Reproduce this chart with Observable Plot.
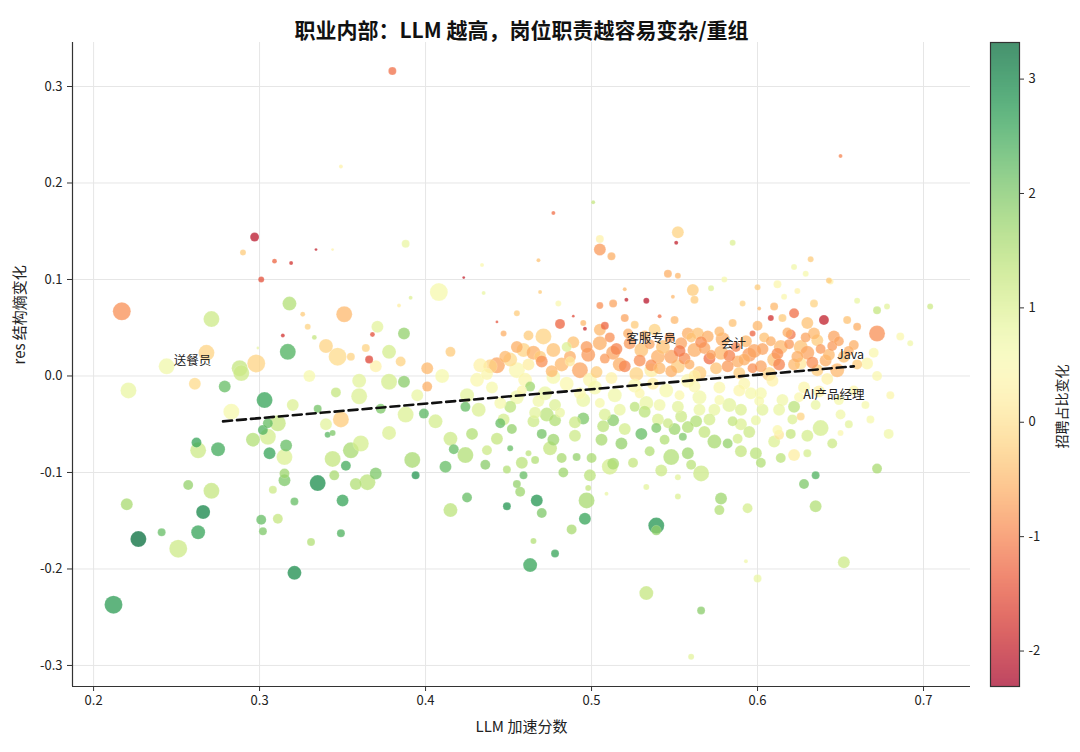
<!DOCTYPE html>
<html><head><meta charset="utf-8">
<script src="https://cdn.jsdelivr.net/npm/d3@7"></script>
<script src="https://cdn.jsdelivr.net/npm/@observablehq/plot@0.6"></script>
<style>
body{margin:0;background:#fff;font-family:"Noto Sans CJK SC","Noto Sans",sans-serif;}
#wrap{display:flex;width:1080px;height:752px;overflow:hidden;}
</style></head><body><div id="wrap"></div>
<script>
const title = "职业内部：LLM 越高，岗位职责越容易变杂/重组";
const xLabel = "LLM 加速分数";
const yLabel = "res 结构熵变化";
const cbLabel = "招聘占比变化";
const xTicks = [0.2,0.3,0.4,0.5,0.6,0.7];
const yTicks = [-0.3,-0.2,-0.1,0.0,0.1,0.2,0.3];
const cbTicks = [-2,-1,0,1,2,3];

const llmScore = [
0.380,0.349,0.297,0.290,0.309,0.319,0.334,0.344,0.388,0.301,
0.423,0.434,0.435,0.217,0.271,0.318,0.326,0.351,0.329,0.333,
0.314,0.368,0.371,0.387,0.378,0.317,0.340,0.347,0.355,0.366,
0.408,0.384,0.391,0.443,0.447,0.364,0.299,0.268,0.244,0.288,
0.298,0.401,0.221,0.261,0.279,0.289,0.303,0.283,0.302,0.305,
0.311,0.296,0.305,0.306,0.316,0.315,0.262,0.263,0.275,0.257,
0.271,0.220,0.266,0.227,0.241,0.263,0.251,0.212,0.315,0.315,
0.308,0.321,0.335,0.350,0.345,0.352,0.355,0.344,0.361,0.365,
0.358,0.370,0.301,0.302,0.311,0.331,0.349,0.321,0.346,0.349,
0.341,0.344,0.335,0.360,0.373,0.378,0.387,0.388,0.378,0.399,
0.401,0.392,0.394,0.412,0.406,0.424,0.415,0.424,0.417,0.415,
0.425,0.449,0.437,0.449,0.445,0.455,0.459,0.457,0.467,0.470,
0.463,0.465,0.478,0.488,0.496,0.497,0.499,0.498,0.509,0.511,
0.533,0.539,0.539,0.533,0.566,0.560,0.552,0.552,0.548,0.558,
0.566,0.578,0.577,0.594,0.593,0.600,0.628,0.635,0.635,0.652,
0.672,0.679,0.638,0.622,0.613,0.622,0.614,0.599,0.599,0.588,
0.585,0.574,0.563,0.555,0.544,0.539,0.532,0.513,0.506,0.495,
0.477,0.482,0.491,0.466,0.462,0.465,0.478,0.451,0.469,0.489,
0.481,0.496,0.505,0.513,0.521,0.533,0.508,0.546,0.552,0.561,
0.562,0.549,0.541,0.471,0.459,0.465,0.477,0.485,0.493,0.443,
0.439,0.433,0.431,0.455,0.451,0.505,0.513,0.520,0.530,0.540,
0.538,0.505,0.526,0.558,0.562,0.552,0.536,0.499,0.477,0.469,
0.463,0.451,0.473,0.526,0.546,0.558,0.513,0.572,0.591,0.601,
0.608,0.622,0.620,0.640,0.630,0.644,0.634,0.654,0.660,0.672,
0.672,0.678,0.658,0.646,0.636,0.626,0.614,0.610,0.602,0.595,
0.588,0.571,0.564,0.570,0.554,0.548,0.578,0.597,0.648,0.636,
0.626,0.666,0.670,0.630,0.626,0.612,0.650,0.668,0.592,0.602,
0.590,0.574,0.562,0.554,0.590,0.650,0.501,0.477,0.468,0.552,
0.551,0.505,0.512,0.505,0.585,0.622,0.632,0.629,0.643,0.616,
0.624,0.704,0.686,0.692,
0.482,0.489,0.498,0.503,0.511,0.517,0.523,0.527,0.532,0.536,
0.543,0.548,0.556,0.560,0.565,0.568,0.575,0.579,0.583,0.589,
0.593,0.598,0.604,0.607,0.612,0.618,0.622,0.630,0.634,0.641,
0.645,0.652,0.660,0.585,0.550,0.520,0.495,0.600,0.615,0.455,
0.462,0.448,0.470,
0.425,0.432,0.440,0.447,0.455,0.460,0.466,0.472,0.478,0.485,
0.490,0.495,0.502,0.508,0.514,0.520,0.526,0.533,0.540,0.545,
0.552,0.558,0.565,0.571,0.577,0.583,0.590,0.596,0.603,0.609,
0.615,0.621,0.628,0.635,0.642,0.650,0.658,0.665,0.672,0.680,
0.428,0.436,0.443,0.452,0.458,0.470,0.475,0.483,0.490,0.500,
0.507,0.518,0.525,0.530,0.535,0.542,0.550,0.560,0.568,0.582,
0.595,0.602,0.610,0.620,0.630,0.645,0.655,
0.455,0.480,0.520,0.580,0.600,0.612,0.660,0.610,
0.330,0.360,0.370,0.385,0.395,0.410,0.415,0.320,0.340,
0.508,0.515,0.522,0.529,0.535,0.541,0.547,0.553,0.559,0.566,
0.572,0.577,0.582,0.587,0.592,0.597,0.603,0.608,0.613,0.619,
0.624,0.629,0.633,0.638,0.643,0.649,0.655,0.497,0.487,0.476,
0.445,0.458,0.468,0.481,0.493,0.505,0.517,0.529,0.541,0.553,
0.565,0.577,0.589,0.601,0.613,0.625,0.637,0.649,0.437,0.462,
0.487,0.512,0.537,0.562
];

const resEntropy = [
0.316,0.217,0.144,0.128,0.119,0.117,0.131,0.131,0.137,0.100,
0.102,0.115,0.086,0.067,0.059,0.075,0.064,0.064,0.051,0.040,
0.042,0.043,0.051,0.044,0.025,0.025,0.031,0.020,0.020,0.017,
0.087,0.073,0.081,0.056,0.044,0.029,0.029,0.024,0.010,0.008,
0.013,0.008,-0.015,-0.008,-0.011,0.003,-0.025,-0.037,-0.056,-0.049,
-0.049,-0.066,-0.063,-0.080,-0.072,-0.084,-0.069,-0.077,-0.076,-0.113,
-0.119,-0.133,-0.141,-0.169,-0.162,-0.162,-0.179,-0.237,-0.101,-0.108,
-0.118,-0.130,-0.111,-0.129,-0.103,-0.093,-0.077,-0.086,-0.070,-0.110,
-0.112,-0.101,-0.149,-0.161,-0.148,-0.172,-0.163,-0.204,-0.017,-0.045,
-0.061,-0.059,-0.034,-0.021,-0.034,-0.006,-0.006,-0.040,-0.059,-0.039,
-0.011,-0.087,-0.103,-0.094,-0.047,-0.032,-0.065,-0.082,-0.076,-0.139,
-0.126,-0.135,-0.077,-0.097,-0.049,-0.112,-0.103,-0.120,-0.129,-0.142,
-0.196,-0.171,-0.184,-0.159,-0.148,-0.129,-0.103,-0.116,-0.122,-0.094,
-0.115,-0.155,-0.160,-0.225,-0.243,-0.291,-0.125,-0.105,-0.084,-0.080,
-0.101,-0.127,-0.139,-0.137,-0.192,-0.210,-0.112,-0.103,-0.135,-0.193,
-0.096,-0.060,-0.054,-0.032,-0.061,-0.082,-0.085,-0.080,-0.046,-0.065,
-0.047,-0.068,-0.047,-0.063,-0.066,-0.054,-0.037,-0.046,-0.066,-0.044,
-0.066,-0.085,-0.084,-0.087,-0.080,-0.047,-0.046,-0.075,0.087,0.062,
0.054,0.049,0.073,0.075,0.079,0.078,0.052,0.106,0.104,0.089,
0.079,0.082,0.062,0.041,0.027,0.024,0.027,0.030,0.006,0.011,
0.010,0.011,-0.004,0.006,0.017,0.034,0.024,0.010,0.027,0.020,
0.048,0.048,0.053,0.044,0.027,0.010,0.006,-0.004,-0.001,0.020,
-0.011,-0.032,-0.040,-0.032,-0.049,-0.053,-0.091,0.091,0.075,0.070,
0.060,0.065,0.043,0.058,0.055,0.098,0.075,0.058,0.051,0.044,
0.068,0.072,0.032,0.041,0.037,0.030,0.030,0.017,0.010,0.022,
0.015,0.018,0.044,0.041,0.034,0.020,0.024,0.044,0.006,0.006,
0.013,0.013,0.024,-0.062,-0.042,-0.056,-0.059,-0.045,-0.008,-0.018,
-0.035,-0.035,-0.011,-0.042,-0.078,0.228,0.180,0.169,0.120,0.149,
0.138,0.131,0.124,0.142,0.138,0.113,0.121,0.106,0.099,0.082,
0.088,0.072,0.041,0.034,
0.012,0.035,0.022,0.004,0.040,0.012,0.034,0.002,0.042,0.011,
0.030,0.005,0.018,0.040,0.003,0.029,0.008,0.038,0.021,0.003,
0.036,0.026,0.040,0.002,0.023,0.045,0.012,0.024,0.044,0.016,
0.031,0.020,0.012,0.055,0.058,0.060,0.055,0.052,0.060,0.030,
0.042,0.020,0.015,
-0.020,-0.035,-0.012,-0.045,-0.022,-0.004,-0.038,-0.018,-0.030,-0.008,
-0.048,-0.025,-0.012,-0.040,-0.020,-0.055,-0.010,-0.028,-0.045,-0.015,
-0.032,-0.005,-0.022,-0.045,-0.012,-0.030,-0.050,-0.018,-0.035,-0.005,
-0.025,-0.045,-0.012,-0.030,-0.003,-0.040,-0.015,-0.030,0.000,-0.020,
-0.060,-0.092,-0.065,-0.055,-0.090,-0.060,-0.075,-0.100,-0.062,-0.085,
-0.052,-0.070,-0.090,-0.060,-0.078,-0.098,-0.055,-0.092,-0.058,-0.070,
-0.058,-0.090,-0.068,-0.060,-0.080,-0.070,-0.050,
0.065,0.075,0.090,0.100,0.092,0.095,0.078,0.072,
0.000,-0.005,0.010,0.015,-0.020,0.000,0.025,-0.030,-0.050,
0.018,0.028,0.044,0.016,0.033,0.008,0.040,0.026,0.012,0.035,
0.022,0.046,0.010,0.030,0.017,0.008,0.028,0.036,0.012,0.033,
0.020,0.040,0.014,0.028,0.022,0.036,0.026,0.030,0.020,0.005,
-0.028,-0.015,-0.026,-0.038,-0.018,-0.028,-0.035,-0.018,-0.030,-0.020,
-0.035,-0.025,-0.015,-0.026,-0.035,-0.022,-0.016,-0.025,0.002,0.012,
0.015,-0.002,-0.008,0.000
];

const postings = [
16,4,20,9,6,4,2,2,16,9,
2,4,4,81,64,49,6,64,9,6,
4,6,36,36,49,64,49,81,16,16,
81,4,4,2,9,16,2,64,64,64,
81,36,64,36,36,64,64,64,25,25,
64,49,64,36,36,64,25,64,49,25,
64,36,49,64,16,49,81,81,25,36,
16,16,64,36,25,25,64,64,64,64,
36,36,25,16,25,16,16,49,25,64,
9,9,16,64,25,64,36,64,49,25,
25,64,16,36,49,25,49,64,25,49,
25,16,25,16,25,16,16,25,36,25,
49,9,16,25,36,64,36,9,4,64,
9,64,25,49,16,9,9,9,64,36,
64,36,25,25,4,16,25,16,36,36,
25,25,64,36,25,36,25,36,25,25,
25,49,36,16,25,25,36,36,36,36,
36,25,16,16,9,36,36,9,4,2,
25,4,12,16,4,9,16,16,9,36,
16,4,4,64,49,49,49,25,64,64,
49,49,49,64,49,49,49,36,49,49,
36,36,16,36,49,49,49,49,49,36,
25,36,49,25,25,36,36,9,9,4,
9,25,25,25,36,9,16,16,16,64,
16,9,25,36,36,49,49,49,36,49,
36,36,36,36,36,49,49,9,49,36,
36,36,25,36,16,25,9,16,36,36,
36,36,36,36,36,4,4,4,4,36,
4,36,16,16,9,9,9,9,9,9,
9,9,16,9,
49,36,49,36,25,49,36,49,25,36,
49,36,36,25,49,36,36,49,36,36,
36,49,25,49,36,25,36,49,36,36,
25,36,25,16,16,16,9,25,16,36,
25,36,36,
49,49,36,36,49,49,36,49,36,49,
36,49,49,36,49,36,49,49,36,49,
36,49,49,36,36,49,36,36,36,36,
36,25,36,25,36,25,25,16,25,16,
36,25,36,25,36,25,49,25,36,25,
36,36,25,36,25,36,36,25,36,25,
36,25,36,25,16,25,16,
9,9,4,9,9,16,9,16,
36,49,36,25,36,49,25,36,36,
25,36,25,36,25,36,25,36,25,36,
25,25,36,25,36,25,36,25,36,25,
36,25,36,25,36,25,25,36,36,36,
36,25,36,25,36,25,36,25,36,25,
36,25,36,25,36,25,36,25,36,36,
25,36,36,36
];

const shareChange = [
-1.2,0.3,-2.1,-0.3,-1.3,-1.8,-2.0,0.3,0.8,-1.5,
-2.0,0.5,0.8,-0.9,1.2,1.5,-0.3,-0.5,-0.2,1.3,
-1.8,-1.5,0.9,1.8,1.1,2.4,-0.2,-0.1,-0.2,-1.6,
0.6,0.2,1.0,-1.5,-0.6,-0.2,0.8,-0.2,0.7,1.3,
-0.2,-0.5,0.8,-0.1,2.2,1.2,2.6,0.6,2.4,2.2,
1.3,1.5,1.1,2.6,2.2,1.0,2.6,1.2,2.5,1.8,
1.3,1.6,3.0,3.3,2.2,2.6,1.2,2.7,1.7,2.0,
1.2,2.2,2.9,2.6,1.6,2.5,1.6,1.3,1.1,1.4,
1.5,2.0,2.2,2.0,1.3,1.5,2.4,2.9,1.3,-0.3,
2.3,2.0,2.1,1.0,2.0,1.1,1.9,1.0,1.0,2.3,
-0.6,1.6,2.8,2.2,1.1,2.2,1.2,1.5,2.2,1.4,
2.2,2.8,1.2,1.5,2.2,1.8,2.2,1.7,2.8,2.0,
2.6,1.5,2.6,1.6,2.6,1.6,1.4,1.3,0.8,1.1,
0.9,2.8,1.8,1.3,1.9,0.9,1.0,0.9,1.5,1.7,
1.2,1.7,1.5,1.1,0.7,0.8,2.0,2.4,1.5,1.2,
1.6,0.7,1.1,1.4,0.1,0.2,1.4,1.4,0.8,1.1,
1.3,1.6,1.5,2.0,1.5,2.0,1.4,1.9,1.6,2.0,
1.7,1.6,1.8,1.5,1.4,1.2,1.5,2.2,-0.3,-1.6,
-1.3,-1.9,-0.9,-0.7,-2.0,-2.1,-1.3,-0.6,-0.5,-0.3,
-0.3,-0.5,-1.2,-0.2,-0.2,-0.6,-0.4,1.0,-0.7,-0.7,
-0.2,0.3,0.5,0.5,-0.1,-0.6,-0.7,-1.0,-0.4,-0.6,
-0.2,-0.5,-0.3,-0.6,-0.6,-0.3,0.2,0.4,0.6,-0.3,
1.7,1.4,1.4,1.4,1.2,1.5,1.6,1.0,-0.2,-0.5,
-1.8,-1.2,-1.1,-2.0,-0.4,0.3,-0.2,-0.4,-0.6,-0.9,
1.3,0.9,-0.6,-0.7,-0.3,-0.4,-0.5,-0.4,-0.7,-0.8,
-0.6,-1.2,-0.4,-0.6,-0.7,-0.7,-0.5,-1.3,-0.5,-0.3,
0.1,0.4,0.5,1.1,-0.2,0.5,0.5,0.6,0.4,0.6,
1.0,0.8,0.5,1.2,1.3,-1.0,1.3,-1.2,-0.4,-0.2,
-2.0,-0.8,-0.6,0.3,1.0,0.7,-0.3,0.6,-0.3,0.5,
0.3,1.2,0.5,0.7,
-0.5,-0.4,-0.8,-0.3,-0.9,-0.6,-0.8,-0.2,-0.5,-0.9,
-0.4,-0.6,-0.9,-0.4,-0.3,-0.7,-0.4,-0.6,-1.0,-0.3,
-0.5,-0.7,-0.4,-0.2,-0.9,-0.6,-0.5,-0.7,-0.5,-0.6,
-0.8,-0.4,-0.3,-0.4,-0.5,-0.7,-0.5,-0.5,-0.3,-0.6,
-0.3,-0.5,-0.9,
0.9,1.0,0.6,1.1,0.7,0.4,0.9,0.8,1.0,0.5,
1.2,0.8,0.6,1.0,0.7,1.1,0.5,0.8,1.0,0.6,
0.9,0.4,0.7,1.1,0.5,0.9,1.0,0.6,0.9,0.3,
0.7,1.0,0.4,0.8,0.3,0.7,0.4,0.6,0.5,0.4,
1.5,1.9,1.3,1.8,1.4,2.1,1.3,1.7,1.2,1.6,
1.4,1.8,1.3,2.2,1.5,1.2,1.7,1.4,1.3,1.8,
1.2,1.5,1.0,1.3,1.1,1.2,0.9,
-0.3,0.5,-0.5,0.6,-0.3,0.4,0.8,-0.5,
0.6,0.9,0.3,-0.2,0.8,0.6,-0.3,1.0,0.9,
-0.8,-1.0,-0.6,-0.9,-0.7,-0.5,-0.8,-1.1,-0.6,-0.9,
-0.7,-0.5,-0.8,-1.0,-0.6,-0.9,-0.7,-0.6,-1.0,-0.8,
-0.6,-0.7,-0.9,-0.8,-0.5,-0.7,-0.6,-0.8,-0.6,-0.5,
0.6,0.4,0.7,0.8,0.5,0.6,0.8,0.4,0.7,0.5,
0.8,0.6,0.4,0.6,0.8,0.5,0.3,0.6,0.4,0.2,
0.1,0.3,0.2,0.2
];

// fitted trend (endpoints)
const trendX = [0.278, 0.658];
const trendY = [-0.047, 0.010];

// annotated occupations
const labelNames = ["送餐员","客服专员","会计","Java","AI产品经理"];
const labelX = [0.2596, 0.536, 0.5855, 0.656, 0.646];
const labelY = [0.0155, 0.038, 0.033, 0.022, -0.0197];

const xDomain = [0.1873, 0.7283];
const yDomain = [-0.3218, 0.3456];
const cDomain = [-2.31, 3.32];

const n = Math.min(llmScore.length, resEntropy.length, postings.length, shareChange.length);
const rows = d3.range(n).map(i => ({x: llmScore[i], y: resEntropy[i], s: postings[i], c: shareChange[i]}));
const trend = trendX.map((x, i) => ({x, y: trendY[i]}));
const labels = labelNames.map((t, i) => ({t, x: labelX[i], y: labelY[i]}));

const FONT = `"Noto Sans CJK SC","Noto Sans",sans-serif`;
const fmt1 = d => d.toFixed(1);

const main = Plot.plot({
  width: 975, height: 752,
  marginLeft: 72, marginRight: 5, marginTop: 42, marginBottom: 66,
  style: {fontFamily: FONT, fontSize: "13px", color: "#333", background: "#fff"},
  x: {domain: xDomain},
  y: {domain: yDomain},
  r: {type: "sqrt", domain: [0, 100], range: [0, 10]},
  color: {type: "linear", scheme: "RdYlGn", domain: cDomain},
  marks: [
    Plot.gridX(xTicks, {stroke: "#e6e6e6", strokeOpacity: 1, strokeWidth: 1}),
    Plot.gridY(yTicks, {stroke: "#e6e6e6", strokeOpacity: 1, strokeWidth: 1}),
    Plot.dot(rows, {x: "x", y: "y", r: "s", fill: "c", fillOpacity: 0.74, stroke: "white", strokeWidth: 0.25, strokeOpacity: 0.6}),
    Plot.line(trend, {x: "x", y: "y", stroke: "#111", strokeWidth: 2.6, strokeDasharray: "9,5"}),
    Plot.text(labels, {x: "x", y: "y", text: "t", fontSize: 12.5, fill: "#222"}),
    Plot.ruleX([xDomain[0]], {stroke: "#333", strokeWidth: 1.2}),
    Plot.ruleY([yDomain[0]], {stroke: "#333", strokeWidth: 1.2}),
    Plot.axisX(xTicks, {tickSize: 5, tickPadding: 4, tickFormat: fmt1, label: null, fill: "#222", fontSize: 13}),
    Plot.axisY(yTicks, {tickSize: 5, tickPadding: 5, tickFormat: fmt1, label: null, fill: "#222", fontSize: 13}),
    Plot.text([xLabel], {frameAnchor: "bottom", dy: 45, fontSize: 15, fill: "#222"}),
    Plot.text([yLabel], {frameAnchor: "left", dx: -52, rotate: -90, fontSize: 15, fill: "#222"}),
    Plot.text([title], {frameAnchor: "top", dy: -19, fontSize: 21, fontWeight: "bold", fill: "#111"})
  ]
});

const bar = Plot.plot({
  width: 105, height: 752,
  marginLeft: 15, marginRight: 61, marginTop: 42, marginBottom: 66,
  style: {fontFamily: FONT, fontSize: "13px", color: "#333", background: "#fff", overflow: "visible"},
  x: {domain: [0, 1], axis: null},
  y: {domain: cDomain, axis: null},
  color: {type: "linear", scheme: "RdYlGn", domain: cDomain},
  marks: [
    Plot.raster({x1: 0, x2: 1, y1: cDomain[0], y2: cDomain[1], width: 1, height: 400, fill: (x, y) => y, opacity: 0.72}),
    Plot.frame({stroke: "#333", strokeWidth: 1.2}),
    Plot.axisY(cbTicks, {anchor: "right", tickSize: 4, tickPadding: 5, tickFormat: d => String(d), label: null, fill: "#222", fontSize: 13}),
    Plot.text([cbLabel], {frameAnchor: "right", dx: 43, rotate: -90, fontSize: 14, fill: "#222"})
  ]
});

document.getElementById("wrap").append(main, bar);
</script></body></html>
